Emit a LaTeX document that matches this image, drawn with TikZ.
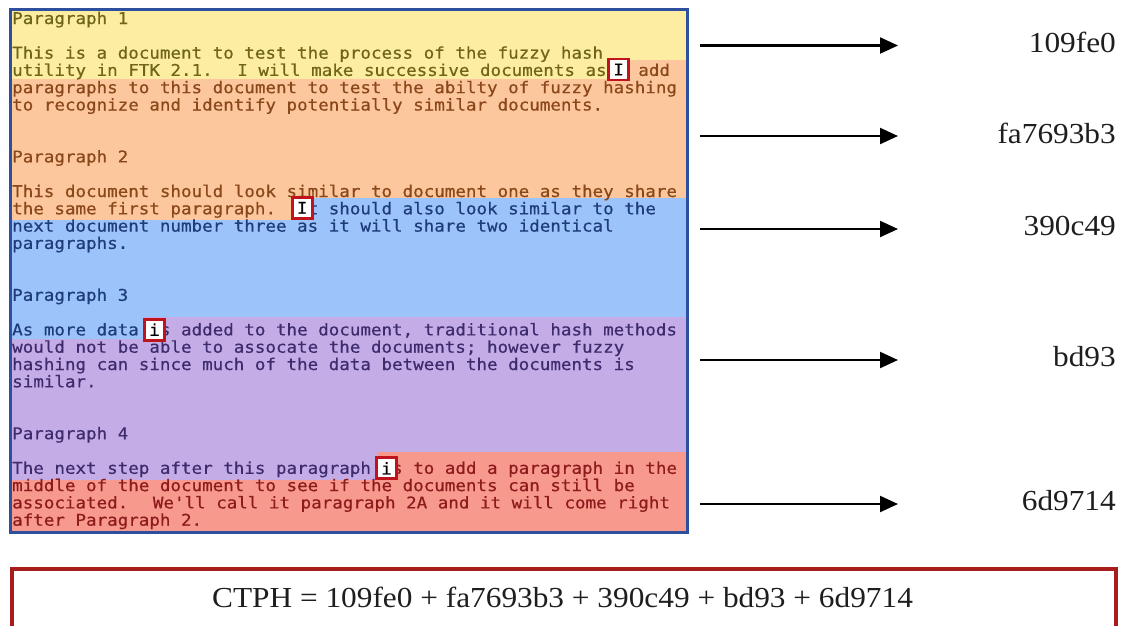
\documentclass[tikz,border=0pt]{standalone}
\usepackage{fontspec}
\usetikzlibrary{arrows.meta}
\newfontfamily\docmono[FakeStretch=1.082,FakeBold=0.5]{DejaVu Sans Mono}
\newfontfamily\hashserif[FakeStretch=1.08]{Liberation Serif}

% band fills
\definecolor{bandY}{HTML}{FCEDA2}
\definecolor{bandO}{HTML}{FCC79C}
\definecolor{bandB}{HTML}{9CC4FA}
\definecolor{bandP}{HTML}{C4ADE6}
\definecolor{bandR}{HTML}{F8998E}
% text colours inside each band
\definecolor{txY}{HTML}{6F6516}
\definecolor{txO}{HTML}{8A4719}
\definecolor{txB}{HTML}{1E3B7A}
\definecolor{txP}{HTML}{3D2B6E}
\definecolor{txR}{HTML}{8E1B1B}
% frames
\definecolor{docframe}{HTML}{2E4F9E}
\definecolor{curred}{HTML}{C0141C}
\definecolor{sumframe}{HTML}{A81C1C}
\definecolor{hashink}{HTML}{1E1E1E}

% one line of the document: name, line number, text
\newcommand\docline[3]{\node[docline] (#1) at (12,{24+17.3*#2}) {#3};}

\begin{document}
\begin{tikzpicture}[x=1pt,y=-1pt,
  docline/.style={anchor=base west,inner sep=0pt,
    font=\fontsize{16.2}{17}\selectfont\docmono},
  cursorbox/.style={draw=curred,line width=2.8pt,fill=white,
    minimum width=20pt,minimum height=21pt,inner sep=0pt,text=black,
    font=\fontsize{16.2}{17}\selectfont\docmono},
  hasharrow/.style={line width=2.2pt,draw=black,
    -{Triangle[length=18pt,width=16pt]}},
  hashlabel/.style={anchor=east,inner sep=0pt,text=hashink,
    font=\fontsize{29}{32}\selectfont\hashserif},
]
\clip (0,0) rectangle (1129,625);
\fill[white] (0,0) rectangle (1129,625);

% coloured bands of the document, each one stepping at its cursor
\fill[bandY] (12,10) rectangle (686,531);
\fill[bandO] (12,79) -- (615,79) -- (615,60) -- (686,60) -- (686,531) -- (12,531) -- cycle;
\fill[bandB] (12,220) -- (295,220) -- (295,198) -- (686,198) -- (686,531) -- (12,531) -- cycle;
\fill[bandP] (12,339) -- (143,339) -- (143,317) -- (686,317) -- (686,531) -- (12,531) -- cycle;
\fill[bandR] (12,480) -- (377,480) -- (377,452) -- (686,452) -- (686,531) -- (12,531) -- cycle;

% document text
\docline{l0}{0}{\textcolor{txY}{Paragraph 1}}
\docline{l2}{2}{\textcolor{txY}{This is a document to test the process of the fuzzy hash}}
\docline{l3}{3}{\textcolor{txY}{utility in FTK 2.1.~ I will make successive documents as~}\textcolor{txO}{I add}}
\docline{l4}{4}{\textcolor{txO}{paragraphs to this document to test the abilty of fuzzy hashing}}
\docline{l5}{5}{\textcolor{txO}{to recognize and identify potentially similar documents.}}
\docline{l8}{8}{\textcolor{txO}{Paragraph 2}}
\docline{l10}{10}{\textcolor{txO}{This document should look similar to document one as they share}}
\docline{l11}{11}{\textcolor{txO}{the same first paragraph.~~}\textcolor{txB}{It should also look similar to the}}
\docline{l12}{12}{\textcolor{txB}{next document number three as it will share two identical}}
\docline{l13}{13}{\textcolor{txB}{paragraphs.}}
\docline{l16}{16}{\textcolor{txB}{Paragraph 3}}
\docline{l18}{18}{\textcolor{txB}{As more data~}\textcolor{txP}{is added to the document, traditional hash methods}}
\docline{l19}{19}{\textcolor{txP}{would not be able to assocate the documents; however fuzzy}}
\docline{l20}{20}{\textcolor{txP}{hashing can since much of the data between the documents is}}
\docline{l21}{21}{\textcolor{txP}{similar.}}
\docline{l24}{24}{\textcolor{txP}{Paragraph 4}}
\docline{l26}{26}{\textcolor{txP}{The next step after this paragraph~}\textcolor{txR}{is to add a paragraph in the}}
\docline{l27}{27}{\textcolor{txR}{middle of the document to see if the documents can still be}}
\docline{l28}{28}{\textcolor{txR}{associated.~ We'll call it paragraph 2A and it will come right}}
\docline{l29}{29}{\textcolor{txR}{after Paragraph 2.}}

% insertion cursors
\node[cursorbox] (cur1) at ({12+57.5*10.55},69.5) {I};
\node[cursorbox] (cur2) at ({12+27.5*10.55},207.8) {I};
\node[cursorbox] (cur3) at ({12+13.5*10.55},329.6) {i};
\node[cursorbox] (cur4) at ({12+35.5*10.55},468.3) {i};

% document frame
\draw[docframe,line width=3pt] (10.5,9.5) rectangle (687.5,532.5);

% piece hashes
\coordinate (s1) at (700,45.5);  \coordinate (e1) at (898,45.5);
\coordinate (s2) at (700,136);   \coordinate (e2) at (898,136);
\coordinate (s3) at (700,229);   \coordinate (e3) at (898,229);
\coordinate (s4) at (700,360);   \coordinate (e4) at (898,360);
\coordinate (s5) at (700,504);   \coordinate (e5) at (898,504);
\draw[hasharrow] (s1) -- (e1);
\draw[hasharrow] (s2) -- (e2);
\draw[hasharrow] (s3) -- (e3);
\draw[hasharrow] (s4) -- (e4);
\draw[hasharrow] (s5) -- (e5);
\node[hashlabel] (h1) at (1116,42) {109fe0};
\node[hashlabel] (h2) at (1116,133) {fa7693b3};
\node[hashlabel] (h3) at (1116,226) {390c49};
\node[hashlabel] (h4) at (1116,357) {bd93};
\node[hashlabel] (h5) at (1116,501) {6d9714};

% combined signature
\draw[sumframe,line width=3.5pt] (12,569) rectangle (1116,640);
\node[anchor=base west,inner sep=0pt,text=hashink,
  font=\fontsize{29}{32}\selectfont\hashserif] (ctph) at (212,607)
  {CTPH = 109fe0 + fa7693b3 + 390c49 + bd93 + 6d9714};
\end{tikzpicture}
\end{document}
